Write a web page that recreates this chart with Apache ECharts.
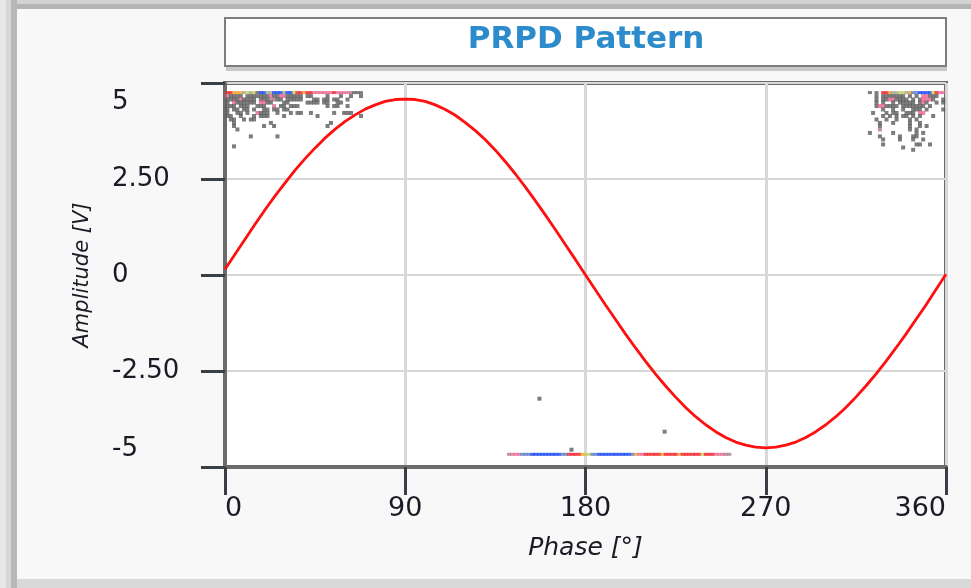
<!DOCTYPE html>
<html><head><meta charset="utf-8">
<script src="https://cdn.jsdelivr.net/npm/echarts@6/dist/echarts.min.js"></script>
<style>html,body{margin:0;padding:0;background:#f8f8f8}#c{width:971px;height:588px}</style>
</head><body><div id="c"></div>
<script>
// ---- data ----
const titleText = 'PRPD Pattern';
const xTickValues = [0, 90, 180, 270, 360];
const yTickValues = [-5, -2.5, 0, 2.5, 5];
const yTickLabels = ['-5', '-2.50', '0', '2.50', '5'];

// reference sine (phase in degrees, amplitude in V)
const phaseDeg = [0,5,10,15,20,25,30,35,40,45,50,55,60,65,70,75,80,85,90,95,100,105,110,115,120,125,130,135,140,145,150,155,160,165,170,175,180,185,190,195,200,205,210,215,220,225,230,235,240,245,250,255,260,265,270,275,280,285,290,295,300,305,310,315,320,325,330,335,340,345,350,355,360];
const sineV = [0.15,0.54,0.93,1.32,1.70,2.06,2.40,2.73,3.03,3.31,3.57,3.80,4.00,4.17,4.32,4.43,4.52,4.57,4.58,4.57,4.52,4.43,4.31,4.16,3.97,3.76,3.52,3.25,2.95,2.63,2.29,1.93,1.56,1.18,0.79,0.40,0.00,-0.39,-0.78,-1.16,-1.54,-1.90,-2.25,-2.58,-2.89,-3.18,-3.45,-3.69,-3.90,-4.08,-4.23,-4.35,-4.43,-4.48,-4.50,-4.48,-4.43,-4.35,-4.23,-4.08,-3.90,-3.69,-3.45,-3.18,-2.89,-2.58,-2.25,-1.90,-1.54,-1.16,-0.78,-0.38,0.02];

// PRPD cells: [phase deg, amplitude V, intensity class]
const tlBand = [[1.2,4.75,8],[2.9,4.75,8],[4.5,4.75,7],[6.2,4.75,7],[7.9,4.75,7],[9.5,4.75,5],[11.2,4.75,6],[12.9,4.75,5],[14.5,4.75,6],[16.2,4.75,0],[17.9,4.75,4],[19.5,4.75,4],[21.2,4.75,5],[22.9,4.75,5],[24.5,4.75,4],[26.2,4.75,4],[27.9,4.75,4],[29.5,4.75,5],[31.2,4.75,4],[32.9,4.75,4],[34.5,4.75,6],[36.2,4.75,8],[37.9,4.75,8],[39.5,4.75,7],[41.2,4.75,8],[42.9,4.75,8],[44.5,4.75,2],[46.2,4.75,2],[47.9,4.75,2],[49.5,4.75,2],[51.2,4.75,2],[52.9,4.75,2],[54.5,4.75,8],[56.2,4.75,2],[57.9,4.75,2],[59.5,4.75,2],[61.2,4.75,2],[62.9,4.75,1],[64.5,4.75,0],[66.2,4.75,0],[67.9,4.75,0]];

const tlPoints = [
[1.2,4.66,2],[2.9,4.66,0],[4.5,4.66,0],[6.2,4.66,0],[7.9,4.66,0],[11.2,4.66,0],[12.9,4.66,0],[14.5,4.66,0],[16.2,4.66,0],[17.9,4.66,0],[19.5,4.66,0],[21.2,4.66,0],[22.9,4.66,2],[24.5,4.66,0],[26.2,4.66,0],[27.9,4.66,2],[29.5,4.66,2],[31.2,4.66,0],[32.9,4.66,0],[34.5,4.66,0],[36.2,4.66,0],[37.9,4.66,0],[41.2,4.66,0],[42.9,4.66,0],[51.2,4.66,0],[57.9,4.66,0],[62.9,4.66,0],[67.9,4.66,0],
[1.2,4.57,0],[2.9,4.57,0],[4.5,4.57,0],[6.2,4.57,0],[7.9,4.57,2],[9.5,4.57,0],[11.2,4.57,0],[12.9,4.57,0],[14.5,4.57,0],[17.9,4.57,0],[19.5,4.57,0],[21.2,4.57,0],[22.9,4.57,1],[24.5,4.57,1],[26.2,4.57,0],[27.9,4.57,0],[31.2,4.57,0],[32.9,4.57,0],[34.5,4.57,0],[36.2,4.57,0],[37.9,4.57,0],[44.5,4.57,0],[46.2,4.57,0],[49.5,4.57,0],[51.2,4.57,0],[54.5,4.57,0],[56.2,4.57,0],[61.2,4.57,0],
[1.2,4.49,0],[4.5,4.49,2],[6.2,4.49,0],[7.9,4.49,0],[9.5,4.49,0],[11.2,4.49,0],[12.9,4.49,0],[14.5,4.49,0],[17.9,4.49,2],[19.5,4.49,2],[21.2,4.49,0],[22.9,4.49,0],[29.5,4.49,0],[31.2,4.49,0],[41.2,4.49,0],[42.9,4.49,0],[44.5,4.49,0],[46.2,4.49,0],[49.5,4.49,0],[51.2,4.49,0],[56.2,4.49,0],[57.9,4.49,0],
[1.2,4.40,0],[2.9,4.40,0],[4.5,4.40,0],[7.9,4.40,0],[9.5,4.40,0],[11.2,4.40,0],[16.2,4.40,0],[17.9,4.40,0],[19.5,4.40,0],[24.5,4.40,2],[27.9,4.40,0],[29.5,4.40,0],[32.9,4.40,0],[34.5,4.40,0],[36.2,4.40,0],[51.2,4.40,0],[54.5,4.40,0],[56.2,4.40,0],[61.2,4.40,0],
[1.2,4.31,0],[4.5,4.31,0],[6.2,4.31,0],[9.5,4.31,0],[11.2,4.31,0],[14.5,4.31,0],[19.5,4.31,0],[21.2,4.31,0],[24.5,4.31,0],[26.2,4.31,0],[29.5,4.31,0],[31.2,4.31,0],
[1.2,4.22,0],[6.2,4.22,0],[7.9,4.22,0],[11.2,4.22,0],[16.2,4.22,2],[17.9,4.22,0],[19.5,4.22,0],[21.2,4.22,0],[26.2,4.22,0],[32.9,4.22,0],[36.2,4.22,0],[37.9,4.22,0],[42.9,4.22,0],[54.5,4.22,0],[59.5,4.22,0],[61.2,4.22,0],[62.9,4.22,0],
[1.2,4.14,0],[2.9,4.14,0],[7.9,4.14,0],[14.5,4.14,0],[17.9,4.14,0],[19.5,4.14,0],[21.2,4.14,0],[29.5,4.14,0],[46.2,4.14,0],[67.9,4.14,0],
[2.9,4.05,0],[4.5,4.05,0],[9.5,4.05,0],[12.9,4.05,0],[14.5,4.05,0],
[4.5,3.96,0],[22.9,3.96,0],[52.9,3.96,0],
[4.5,3.88,0],[19.5,3.88,0],[24.5,3.88,0],[51.2,3.88,0],
[6.2,3.79,0],
[12.9,3.61,0],[26.2,3.61,0],
[4.5,3.35,0]];

const trBand = [[322.0,4.75,0],[325.3,4.75,0],[328.6,4.75,8],[330.3,4.75,8],[332.0,4.75,7],[333.6,4.75,5],[335.3,4.75,5],[337.0,4.75,6],[338.6,4.75,6],[340.3,4.75,5],[342.0,4.75,7],[343.6,4.75,3],[345.3,4.75,3],[347.0,4.75,4],[348.6,4.75,4],[350.3,4.75,4],[352.0,4.75,4],[353.6,4.75,6],[355.3,4.75,8],[357.0,4.75,2],[358.6,4.75,2]];

const trPoints = [
[325.3,4.66,0],[328.6,4.66,0],[330.3,4.66,0],[332.0,4.66,0],[333.6,4.66,0],[335.3,4.66,0],[337.0,4.66,0],[338.6,4.66,0],[342.0,4.66,0],[345.3,4.66,0],[348.6,4.66,2],[350.3,4.66,2],[352.0,4.66,0],[353.6,4.66,0],[355.3,4.66,0],
[325.3,4.57,0],[328.6,4.57,0],[330.3,4.57,0],[332.0,4.57,2],[333.6,4.57,2],[335.3,4.57,0],[337.0,4.57,0],[338.6,4.57,0],[340.3,4.57,0],[343.6,4.57,0],[347.0,4.57,0],[348.6,4.57,2],[350.3,4.57,2],[352.0,4.57,2],[353.6,4.57,0],[358.6,4.57,0],
[325.3,4.49,0],[328.6,4.49,0],[333.6,4.49,0],[337.0,4.49,0],[338.6,4.49,0],[340.3,4.49,0],[342.0,4.49,0],[343.6,4.49,0],[347.0,4.49,0],[348.6,4.49,2],[350.3,4.49,0],[355.3,4.49,0],[358.6,4.49,0],
[325.3,4.40,0],[327.0,4.40,2],[328.6,4.40,2],[330.3,4.40,0],[332.0,4.40,0],[333.6,4.40,0],[335.3,4.40,0],[338.6,4.40,0],[340.3,4.40,0],[342.0,4.40,0],[343.6,4.40,0],[345.3,4.40,0],[347.0,4.40,0],[348.6,4.40,0],[352.0,4.40,0],
[328.6,4.31,0],[333.6,4.31,0],[338.6,4.31,0],[343.6,4.31,0],[345.3,4.31,0],[347.0,4.31,0],[350.3,4.31,0],[358.6,4.31,0],
[323.6,4.22,0],[330.3,4.22,0],[333.6,4.22,0],[335.3,4.22,0],[340.3,4.22,0],[342.0,4.22,0],[343.6,4.22,0],[347.0,4.22,2],[348.6,4.22,2],
[328.6,4.14,0],[332.0,4.14,0],[335.3,4.14,0],[338.6,4.14,0],[340.3,4.14,0],[343.6,4.14,0],[347.0,4.14,0],[353.6,4.14,0],
[325.3,4.05,0],[330.3,4.05,0],[335.3,4.05,0],[342.0,4.05,0],[345.3,4.05,0],
[327.0,3.96,0],[333.6,3.96,0],[342.0,3.96,0],[347.0,3.96,0],
[327.0,3.88,0],[342.0,3.88,0],[347.0,3.88,0],[350.3,3.88,0],
[327.0,3.79,1],[342.0,3.79,0],[345.3,3.79,0],
[322.0,3.70,0],[333.6,3.70,0],[345.3,3.70,0],[348.6,3.70,0],
[327.0,3.61,0],[337.0,3.61,0],[343.6,3.61,0],[345.3,3.61,0],
[328.6,3.53,0],[337.0,3.53,0],[343.6,3.53,0],[348.6,3.53,0],
[328.6,3.40,0],[345.3,3.40,0],[347.0,3.40,0],[352.0,3.40,0],
[338.6,3.32,0],
[343.6,3.26,0]];

const lowBand = [[141.8,-4.67,1],[143.5,-4.67,2],[145.1,-4.67,2],[146.8,-4.67,2],[148.5,-4.67,3],[150.1,-4.67,3],[151.8,-4.67,3],[153.5,-4.67,4],[155.1,-4.67,4],[156.8,-4.67,4],[158.5,-4.67,4],[160.1,-4.67,4],[161.8,-4.67,4],[163.5,-4.67,4],[165.1,-4.67,4],[166.8,-4.67,4],[168.5,-4.67,3],[170.1,-4.67,3],[171.8,-4.67,8],[173.5,-4.67,8],[175.1,-4.67,8],[176.8,-4.67,8],[178.5,-4.67,7],[180.1,-4.67,6],[181.8,-4.67,6],[183.5,-4.67,3],[185.1,-4.67,3],[186.8,-4.67,4],[188.5,-4.67,4],[190.1,-4.67,4],[191.8,-4.67,4],[193.5,-4.67,4],[195.1,-4.67,4],[196.8,-4.67,4],[198.5,-4.67,4],[200.1,-4.67,4],[201.8,-4.67,4],[203.5,-4.67,3],[205.1,-4.67,7],[206.8,-4.67,2],[208.5,-4.67,2],[210.1,-4.67,8],[211.8,-4.67,8],[213.5,-4.67,8],[215.1,-4.67,8],[216.8,-4.67,8],[218.5,-4.67,7],[220.1,-4.67,8],[221.8,-4.67,8],[223.5,-4.67,8],[225.1,-4.67,8],[226.8,-4.67,7],[228.5,-4.67,8],[230.1,-4.67,8],[231.8,-4.67,8],[233.5,-4.67,8],[235.1,-4.67,8],[236.8,-4.67,8],[238.5,-4.67,6],[240.1,-4.67,8],[241.8,-4.67,8],[243.5,-4.67,8],[245.1,-4.67,2],[246.8,-4.67,2],[248.5,-4.67,2],[250.1,-4.67,1],[251.8,-4.67,1]];

const lowPoints = [[157.0,-3.22,0],[173.0,-4.55,0],[219.5,-4.08,0]];

// ---- styling ----
const palette = ['#5c5c5c','#a87a8a','#e8658d','#5a7bc6','#1242f2','#9aa98c','#c9cd55','#f59c22','#f21c26'];
const FONT = 'DejaVu Sans';
function cells(arr){ return arr.map(p => ({ value: [p[0], p[1]], itemStyle: { color: palette[p[2]] } })); }
function yLabel(v){
  const i = yTickValues.indexOf(v);
  const t = i >= 0 ? yTickLabels[i] : String(v);
  if (v === 5) return '{mx|' + t + '}';
  if (v === -5) return '{mn|' + t + '}';
  return t;
}
const labelColor = '#1b1b26';

const chart = echarts.init(document.getElementById('c'), null, { renderer: 'canvas' });
chart.setOption({
  animation: false,
  backgroundColor: '#f8f8f8',
  title: {
    text: titleText, left: 586, top: 24, textAlign: 'center', padding: 0,
    textStyle: { fontFamily: FONT, fontWeight: 'bold', fontSize: 31, color: '#2b8bcb' }
  },
  graphic: [
    { type: 'rect', z: -10, shape: { x: 0, y: 0, width: 6, height: 588 }, style: { fill: '#e7e7e7' } },
    { type: 'rect', z: -10, shape: { x: 6, y: 0, width: 5, height: 588 }, style: { fill: '#d7d7d7' } },
    { type: 'rect', z: -10, shape: { x: 11, y: 0, width: 6, height: 588 }, style: { fill: '#b8b8b8' } },
    { type: 'rect', z: -10, shape: { x: 17, y: 0, width: 954, height: 4 }, style: { fill: '#d2d2d2' } },
    { type: 'rect', z: -10, shape: { x: 17, y: 4, width: 954, height: 5 }, style: { fill: '#b4b4b4' } },
    { type: 'rect', z: -10, shape: { x: 17, y: 579, width: 954, height: 9 }, style: { fill: '#d8d8d8' } },
    { type: 'rect', z: -10, shape: { x: 226, y: 66, width: 721, height: 5 }, style: { fill: '#c8c8c8' } },
    { type: 'rect', z: -9, shape: { x: 225, y: 18, width: 721, height: 48 }, style: { fill: '#ffffff', stroke: '#7d7d7d', lineWidth: 2 } }
  ],
  grid: {
    left: 225, right: 25, top: 83, bottom: 121,
    show: true, backgroundColor: '#ffffff', borderColor: '#6b6b6b', borderWidth: 4
  },
  xAxis: {
    type: 'value', min: 0, max: 360, interval: 90,
    axisLine: { show: true, onZero: false, lineStyle: { color: '#6b6b6b', width: 4 } },
    axisTick: { show: true, length: 28, lineStyle: { color: '#3a3e46', width: 3 } },
    axisLabel: { margin: 28, fontSize: 27, fontFamily: FONT, color: labelColor,
      alignMinLabel: 'left', alignMaxLabel: 'right', formatter: v => String(v) },
    splitLine: { show: true, lineStyle: { color: '#d8d8d8', width: 3 } },
    name: 'Phase [°]', nameLocation: 'middle', nameGap: 69,
    nameTextStyle: { fontFamily: FONT, fontStyle: 'italic', fontSize: 25, color: '#1b1b26' }
  },
  yAxis: {
    type: 'value', min: -5, max: 5, interval: 2.5,
    axisLine: { show: true, onZero: false, lineStyle: { color: '#6b6b6b', width: 4 } },
    axisTick: { show: true, length: 24, lineStyle: { color: '#3a3e46', width: 3 } },
    axisLabel: { margin: 113, align: 'left', fontSize: 26, fontFamily: FONT, color: labelColor,
      formatter: yLabel,
      rich: {
        mx: { padding: [38, 0, 0, 0], fontSize: 26, fontFamily: FONT, color: labelColor },
        mn: { padding: [0, 0, 36, 0], fontSize: 26, fontFamily: FONT, color: labelColor }
      } },
    splitLine: { show: true, lineStyle: { color: '#d8d8d8', width: 2 } },
    name: 'Amplitude [V]', nameLocation: 'middle', nameGap: 132, nameRotate: 90,
    nameTextStyle: { fontFamily: FONT, fontStyle: 'italic', fontSize: 21, color: '#1b1b26' }
  },
  series: [
    { type: 'scatter', symbol: 'rect', symbolSize: [4, 4], silent: true, data: cells(tlPoints.concat(trPoints, lowPoints)) },
    { type: 'scatter', symbol: 'rect', symbolSize: [4, 3], silent: true, data: cells(tlBand.concat(trBand, lowBand)) },
    { type: 'line', smooth: false, symbol: 'none', silent: true, z: 5,
      lineStyle: { color: '#ff1010', width: 2.8 },
      data: phaseDeg.map((p, i) => [p, sineV[i]]) }
  ]
});
</script>
</body></html>
